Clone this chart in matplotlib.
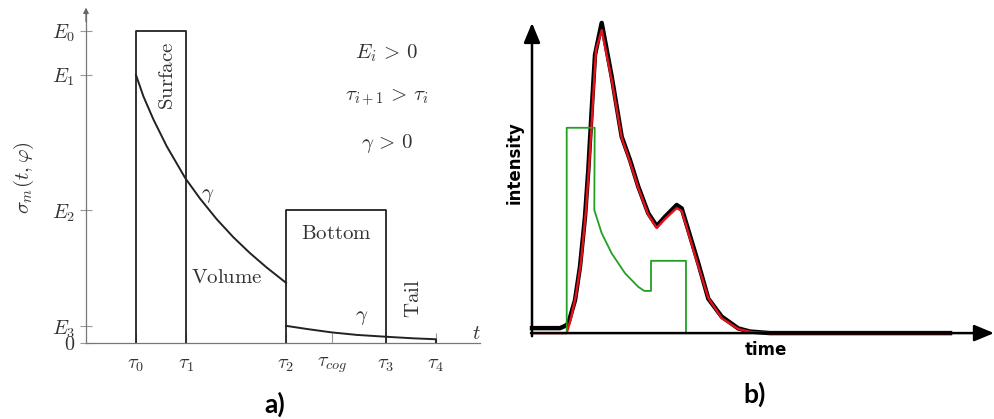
import matplotlib.pyplot as plt

plt.rcParams['mathtext.fontset'] = 'cm'

# ---------- panel a) : schematic ----------
tau_pos = [1, 2, 4, 4.92, 6, 7]
tau_labels = [r'$\tau_0$', r'$\tau_1$', r'$\tau_2$', r'$\tau_{cog}$', r'$\tau_3$', r'$\tau_4$']
e_pos = [0, 0.054, 0.426, 0.859, 1.0]
e_labels = [r'$0$', r'$E_3$', r'$E_2$', r'$E_1$', r'$E_0$']

surface_t = [1, 1, 2, 2]
surface_e = [0, 1.0, 1.0, 0]
bottom_t = [4, 4, 6, 6]
bottom_e = [0, 0.426, 0.426, 0]

volume_t = [1.0, 1.147, 1.347, 1.613, 1.987, 2.28, 2.613, 2.947, 3.28, 3.613, 4.0]
volume_e = [0.859, 0.791, 0.717, 0.631, 0.528, 0.463, 0.397, 0.339, 0.288, 0.242, 0.193]
tail_t = [4.0, 4.413, 4.913, 5.413, 6.0, 6.547, 7.0, 7.0]
tail_e = [0.055, 0.045, 0.034, 0.026, 0.020, 0.015, 0.012, 0.0]

# ---------- panel b) : measured intensity ----------
black_t = [0, 2.8, 3.3, 3.63, 4.3, 4.8, 5.3, 5.63, 5.97, 6.3, 6.97, 7.97, 8.97, 9.8,
           10.63, 11.63, 12.47, 13.3, 14.47, 14.97, 15.63, 16.63, 17.63, 18.97,
           20.63, 21.8, 23.8, 41.8]
black_i = [0.016, 0.016, 0.023, 0.031, 0.106, 0.214, 0.375, 0.526, 0.719, 0.897, 1.0,
           0.827, 0.633, 0.558, 0.472, 0.386, 0.345, 0.375, 0.413, 0.402, 0.332,
           0.225, 0.111, 0.053, 0.015, 0.005, 0.0, 0.0]
red_t = [0, 3.47, 3.9, 4.4, 4.9, 5.4, 5.75, 6.1, 6.4, 6.97, 7.97, 8.97, 9.8, 10.63,
         11.63, 12.47, 13.3, 14.47, 14.97, 15.63, 16.63, 17.63, 18.97, 20.63, 22.0,
         23.8, 41.8]
red_i = [0.0, 0.0, 0.048, 0.123, 0.229, 0.397, 0.558, 0.752, 0.913, 0.977, 0.816,
         0.629, 0.552, 0.468, 0.381, 0.339, 0.368, 0.403, 0.394, 0.323, 0.216,
         0.113, 0.048, 0.013, 0.003, 0.0, 0.0]
green_t = [0, 3.47, 3.47, 6.27, 6.23, 6.97, 7.97, 9.3, 10.63, 11.23, 11.9, 11.9,
           15.4, 15.4, 41.8]
green_i = [0.0, 0.0, 0.662, 0.662, 0.397, 0.322, 0.257, 0.193, 0.149, 0.136, 0.136,
           0.233, 0.233, 0.0, 0.0]

fig = plt.figure(figsize=(9.95, 4.19), dpi=100)

# ----- a) -----
ax = fig.add_axes([0, 0, 480 / 995, 1])
ax.set_xlim(-1.72, 7.88)
ax.set_ylim(-0.2436, 1.0994)
for s in ['top', 'right']:
    ax.spines[s].set_visible(False)
for s in ['left', 'bottom']:
    ax.spines[s].set_position(('data', 0))
    ax.spines[s].set_color('#777777')
    ax.spines[s].set_linewidth(0.9)
ax.spines['left'].set_bounds(0, 1.06)
ax.spines['bottom'].set_bounds(0, 7.88)
ax.annotate('', xy=(0, 1.075), xytext=(0, 1.03),
            arrowprops=dict(arrowstyle='-|>', color='#666666', lw=0.9,
                            mutation_scale=8, shrinkA=0, shrinkB=0))

ax.set_xticks(tau_pos, tau_labels)
ax.set_yticks(e_pos, e_labels)
ax.tick_params(axis='x', direction='in', length=7, color='#999999', pad=9,
               labelsize=14.5, labelcolor='#333333')
ax.tick_params(axis='y', direction='inout', length=8, color='#999999', pad=4,
               labelsize=14.5, labelcolor='#333333')

lc = '#222222'
ax.plot(surface_t, surface_e, color=lc, lw=1.3)
ax.plot(bottom_t, bottom_e, color=lc, lw=1.3)
ax.plot(volume_t, volume_e, color=lc, lw=1.4)
ax.plot(tail_t, tail_e, color=lc, lw=1.4)

tc = '#333333'
ax.text(1.613, 0.856, r'$\mathrm{Surface}$', rotation=90, ha='center', va='center', fontsize=15, color=tc)
ax.text(2.433, 0.474, r'$\gamma$', ha='center', va='center', fontsize=15, color=tc)
ax.text(2.813, 0.2125, r'$\mathrm{Volume}$', ha='center', va='center', fontsize=15, color=tc)
ax.text(5.013, 0.354, r'$\mathrm{Bottom}$', ha='center', va='center', fontsize=15, color=tc)
ax.text(6.54, 0.143, r'$\mathrm{Tail}$', rotation=90, ha='center', va='center', fontsize=15, color=tc)
ax.text(5.513, 0.084, r'$\gamma$', ha='center', va='center', fontsize=15, color=tc)
ax.text(7.81, 0.032, r'$t$', ha='center', va='center', fontsize=15, color=tc)
ax.text(6.013, 0.928, r'$E_i\,>\,0$', ha='center', va='center', fontsize=15, color=tc)
ax.text(6.013, 0.7875, r'$\tau_{i+1}\,>\,\tau_i$', ha='center', va='center', fontsize=15, color=tc)
ax.text(6.013, 0.64, r'$\gamma\,>\,0$', ha='center', va='center', fontsize=15, color=tc)
ax.text(23.5 / 480, 1 - 178 / 419, r'$\sigma_m(t,\varphi)$', rotation=90, ha='center',
        va='center', fontsize=15, color=tc, transform=ax.transAxes)

# ----- b) -----
bx = fig.add_axes([500 / 995, 0, 495 / 995, 1])
bx.set_xlim(-3.2, 46.3)
bx.set_ylim(-0.277, 1.074)
bx.axis('off')
bx.plot(black_t, black_i, color='black', lw=3.2, solid_joinstyle='round')
bx.plot(red_t, red_i, color='#e3131b', lw=1.7, solid_joinstyle='round')
bx.plot(green_t, green_i, color='#22a022', lw=1.3)
arrow = dict(arrowstyle='-|>,head_length=0.6,head_width=0.25', color='black', lw=1.8,
             mutation_scale=20, shrinkA=0, shrinkB=0)
bx.annotate('', xy=(0, 1.0), xytext=(0, -0.01), arrowprops=arrow)
bx.annotate('', xy=(46.2, 0), xytext=(-0.1, 0), arrowprops=arrow)
bx.plot(green_t[-2:], green_i[-2:], color='#22a022', lw=1.3)
bx.text((515 - 500) / 495, 1 - 163 / 419, 'intensity', rotation=90, ha='center', va='center',
        fontsize=12, fontweight='bold', transform=bx.transAxes)
bx.text((766 - 500) / 495, 1 - 350 / 419, 'time', ha='center', va='center',
        fontsize=12, fontweight='bold', transform=bx.transAxes)

fig.text(275 / 995, 1 - 404 / 419, 'a)', ha='center', va='center', fontsize=19,
         fontweight='bold', family=['Lato', 'DejaVu Sans'])
fig.text(755 / 995, 1 - 394 / 419, 'b)', ha='center', va='center', fontsize=19,
         fontweight='bold', family=['Lato', 'DejaVu Sans'])

fig.savefig('out.png', dpi=100)
